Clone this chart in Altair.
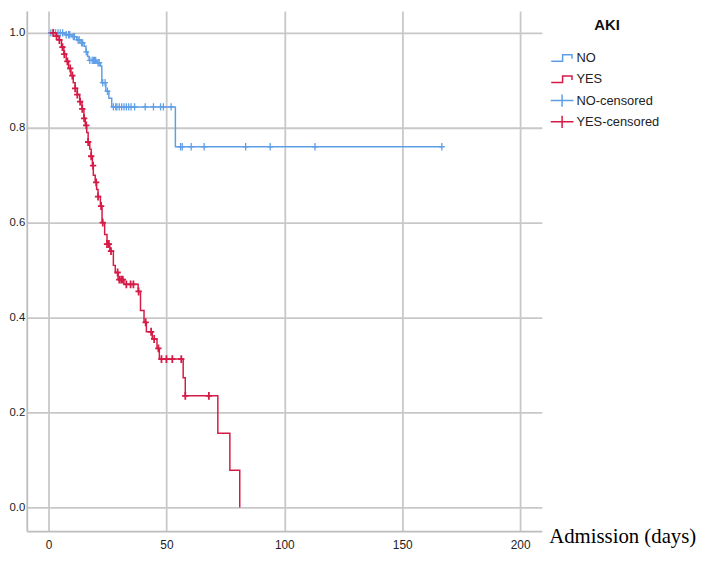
import bisect
import altair as alt
import pandas as pd

# ---- data (Kaplan-Meier curves) ----
NO_DAYS = [0, 7, 10, 12, 13.8, 15.1, 15.9, 16.6, 17.2, 20.5, 22.0, 22.6, 24.3, 25.6, 26.8, 53.8, 166.8]
NO_SURV = [1.0, 0.996, 0.992, 0.985, 0.979, 0.972, 0.96, 0.95, 0.942, 0.937, 0.93, 0.895, 0.877, 0.862, 0.844, 0.76, 0.76]
NO_CENSOR = [1, 2, 3, 4, 5, 6, 7.5, 8.5, 9, 10.5, 11, 12.5, 13, 14, 14.5, 16, 17.5, 18.5, 19, 19.5,
             20, 21, 21.5, 23, 24, 25, 27.5, 28.5, 29, 30, 31, 32, 33, 34, 35, 36.5, 41, 44.5,
             47.5, 48.7, 52, 56, 56.7, 60.5, 66, 83.6, 94, 113, 166.8]

YES_DAYS = [0, 3, 4.5, 5.5, 6.5, 7.5, 8.5, 9.5, 10.5, 11.3, 12.2, 13.2, 14.2, 15, 15.6, 16.2, 16.8,
            17.5, 18.1, 18.6, 19.0, 19.8, 20.4, 21.0, 22.0, 22.7, 23.8, 24.8, 26.0, 27.5, 28.3,
            29.5, 32, 38, 39, 40.5, 41.5, 44, 46, 47, 57.1, 58, 71.8, 76.9, 81.1]
YES_SURV = [1.0, 0.993, 0.985, 0.97, 0.955, 0.94, 0.925, 0.91, 0.895, 0.883, 0.87, 0.855, 0.84, 0.82,
            0.805, 0.79, 0.77, 0.755, 0.74, 0.72, 0.70, 0.685, 0.67, 0.655, 0.635, 0.60, 0.575,
            0.555, 0.54, 0.51, 0.495, 0.48, 0.47, 0.455, 0.415, 0.39, 0.37, 0.355, 0.335, 0.3125,
            0.273, 0.235, 0.156, 0.078, 0.0]
YES_CENSOR = [2, 3.4, 4.6, 5.9, 6.7, 8, 9.2, 10.1, 11.3, 12.2, 13.4, 14.3, 15.1, 16, 16.8, 18.1,
              18.9, 20.2, 21, 22.3, 23, 24.8, 25.6, 26.5, 29.3, 30, 30.8, 31.5, 33, 34.8, 36,
              38.2, 41.2, 43.5, 44.8, 46.6, 47.9, 50, 52.5, 56.3, 58, 68]

LEGEND_KEYS = ["NO", "YES", "NO-censored", "YES-censored"]
X_TICKS = [0, 50, 100, 150, 200]
Y_TICKS = [0.0, 0.2, 0.4, 0.6, 0.8, 1.0]

BLUE = "#5e9ee6"
RED = "#d61a46"
SANS = "Liberation Sans, Arial, sans-serif"

# step icon; zero-length segments give it the same height as the cross icon
STEP_SHAPE = "M-2.2,0.65H0.1V-0.65H2.0V0.15M0,-1.25L0,-1.25M0,1.25L0,1.25"
CROSS_LEGEND = "M-2.3,0H2.3M0,-1.25V1.25"
CROSS_MARK = "M-0.8,0H0.8M0,-1V1"


def surv_at(days, surv, t):
    i = bisect.bisect_right(days, t) - 1
    return surv[max(i, 0)]


no_line = pd.DataFrame({"day": NO_DAYS, "surv": NO_SURV})
yes_line = pd.DataFrame({"day": YES_DAYS, "surv": YES_SURV})
no_cens = pd.DataFrame({"day": NO_CENSOR, "surv": [surv_at(NO_DAYS, NO_SURV, t) for t in NO_CENSOR]})
yes_cens = pd.DataFrame({"day": YES_CENSOR, "surv": [surv_at(YES_DAYS, YES_SURV, t) for t in YES_CENSOR]})
legend_df = pd.DataFrame({"key": LEGEND_KEYS, "day": [300] * 4, "surv": [0.5] * 4})

x_enc = alt.X(
    "day:Q",
    scale=alt.Scale(domain=[-9.22, 209.2], nice=False, zero=False),
    axis=alt.Axis(values=X_TICKS, title="Admission (days)", labelPadding=9, labelFontSize=12,
                  titleX=528, titleY=6, titleAlign="left", titleBaseline="middle",
                  titleFont="Liberation Serif, Times New Roman, serif", titleFontSize=21,
                  titleFontWeight="normal", titleColor="#000000"),
)
y_enc = alt.Y(
    "surv:Q",
    scale=alt.Scale(domain=[-0.05, 1.04583], nice=False, zero=False),
    axis=alt.Axis(values=Y_TICKS, format=".1f", title=None, labelPadding=2, labelFontSize=11.5),
)

line_no = alt.Chart(no_line).mark_line(interpolate="step-after", color=BLUE, strokeWidth=1.5, clip=True).encode(x=x_enc, y=y_enc)
line_yes = alt.Chart(yes_line).mark_line(interpolate="step-after", color=RED, strokeWidth=1.5, clip=True).encode(x=x_enc, y=y_enc)
pts_no = alt.Chart(no_cens).mark_point(shape=CROSS_MARK, size=56, filled=False, color=BLUE,
                                       strokeWidth=1.3, opacity=1, clip=True).encode(x=x_enc, y=y_enc)
pts_yes = alt.Chart(yes_cens).mark_point(shape=CROSS_MARK, size=64, filled=False, color=RED,
                                         strokeWidth=1.8, opacity=1, clip=True).encode(x=x_enc, y=y_enc)

legend_layer = alt.Chart(legend_df).mark_point(filled=False, opacity=1, strokeWidth=1.5, clip=True).encode(
    x=x_enc,
    y=y_enc,
    color=alt.Color("key:N", scale=alt.Scale(domain=LEGEND_KEYS, range=[BLUE, RED, BLUE, RED]),
                    legend=alt.Legend(title="AKI")),
    shape=alt.Shape("key:N", scale=alt.Scale(domain=LEGEND_KEYS,
                                             range=[STEP_SHAPE, STEP_SHAPE, CROSS_LEGEND, CROSS_LEGEND]),
                    legend=alt.Legend(title="AKI")),
)

chart = (
    alt.layer(line_no, line_yes, pts_no, pts_yes, legend_layer)
    .properties(
        width=521,
        height=526,
        padding={"left": 19, "top": 0, "right": 160, "bottom": 19},
        autosize=alt.AutoSizeParams(type="none"),
        background="white",
    )
    .configure_view(strokeWidth=0)
    .configure_axis(
        grid=True, gridColor="#c8c8c8", gridWidth=1.8,
        domainColor="#bdbdbd", domainWidth=1.8,
        ticks=False,
        labelFont=SANS, labelColor="#222222",
    )
    .configure_legend(
        orient="none", legendX=535, legendY=7, padding=0,
        titleFont=SANS, titleFontSize=15, titleFontWeight="bold", titleColor="#111111",
        titleAnchor="middle", titlePadding=19,
        labelFont=SANS, labelFontSize=13, labelColor="#222222", labelOffset=8,
        symbolSize=100, symbolStrokeWidth=1.5, rowPadding=2.5,
    )
)

chart.save("out.html", embed_options={"renderer": "svg", "actions": False})
